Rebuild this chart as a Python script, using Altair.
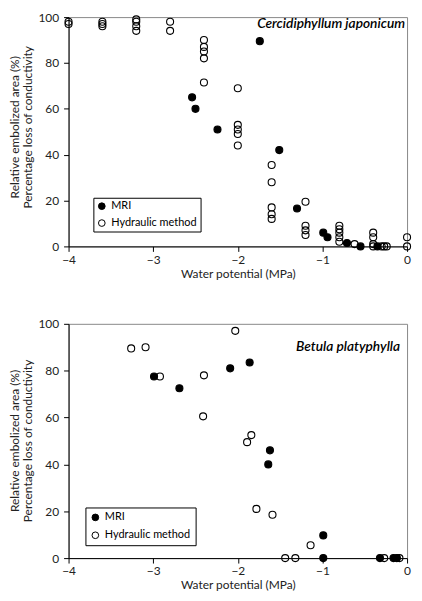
import altair as alt
import pandas as pd

# ---- Cercidiphyllum japonicum (top panel) ----
top_hyd_x = [-4.0, -4.0, -3.6, -3.6, -3.6, -3.2, -3.2, -3.2, -3.2, -2.8, -2.8,
             -2.4, -2.4, -2.4, -2.4, -2.4, -2.0, -2.0, -2.0, -2.0, -2.0,
             -1.6, -1.6, -1.6, -1.6, -1.6, -1.2, -1.2, -1.2, -1.2,
             -0.8, -0.8, -0.8, -0.8, -0.8, -0.62, -0.4, -0.4, -0.4, -0.4,
             -0.3, -0.27, -0.24, 0.0, 0.0]
top_hyd_y = [97, 98, 96, 97, 98, 94, 96, 98, 99, 98, 94,
             90, 87, 85, 82, 71.5, 69, 53, 51, 49, 44,
             35.5, 28, 17, 14, 12, 19.5, 9, 7, 5,
             9, 7.5, 6, 4, 2, 1, 6, 4, 1, 0,
             0, 0, 0, 4, 0]
top_mri_x = [-2.54, -2.5, -2.24, -1.74, -1.51, -1.3, -0.99, -0.94, -0.71, -0.55, -0.35]
top_mri_y = [65, 60, 51, 89.5, 42, 16.5, 6, 4, 1.5, 0, 0]

# ---- Betula platyphylla (bottom panel) ----
bot_hyd_x = [-3.26, -3.09, -2.92, -2.40, -2.41, -2.03, -1.84, -1.89, -1.78, -1.59,
             -1.44, -1.32, -1.14, -0.27, -0.09]
bot_hyd_y = [89.5, 90, 77.5, 78, 60.5, 97, 52.5, 49.5, 21, 18.5,
             0, 0, 5.5, 0, 0]
bot_mri_x = [-2.99, -2.69, -2.09, -1.86, -1.62, -1.64, -0.99, -0.99, -0.32, -0.16, -0.12]
bot_mri_y = [77.5, 72.5, 81, 83.5, 46, 40, 9.7, 0, 0, 0, 0]

x_ticks = [-4, -3, -2, -1, 0]
y_ticks = [0, 20, 40, 60, 80, 100]
methods = ["MRI", "Hydraulic method"]
x_title = "Water potential (MPa)"
y_title_lines = ["Relative embolized area (%)", "Percentage loss of conductivity"]

FONT = "Lato"
W = 341


def panel(hx, hy, mx, my, h, label, lab_x, lab_y, leg_x, leg_y, leg_pad, leg_row, yt_y):
    df = pd.DataFrame({
        "x": hx + mx,
        "y": hy + my,
        "method": ["Hydraulic method"] * len(hx) + ["MRI"] * len(mx),
        "ord": list(range(len(hx) + len(mx))),
    })
    pts = alt.Chart(df).mark_point(
        shape="circle", size=50, stroke="black", strokeWidth=1.1,
        opacity=1, fillOpacity=1, clip=False
    ).encode(
        x=alt.X("x:Q", scale=alt.Scale(domain=[-4, 0], nice=False, zero=False),
                axis=alt.Axis(values=x_ticks, title=x_title, grid=False, format="d",
                              labelFlush=False)),
        y=alt.Y("y:Q", scale=alt.Scale(domain=[0, 100], nice=False),
                axis=alt.Axis(values=y_ticks, title=None, grid=False, labelFlush=False)),
        fill=alt.Fill("method:N",
                      scale=alt.Scale(domain=methods, range=["black", "transparent"]),
                      legend=alt.Legend(title=None, orient="none", legendX=leg_x, legendY=leg_y,
                                        strokeColor="black", fillColor="white", padding=leg_pad,
                                        symbolType="circle", symbolSize=45,
                                        symbolStrokeColor="black", symbolStrokeWidth=1,
                                        labelFont=FONT, labelFontSize=11, labelColor="black",
                                        rowPadding=leg_row, labelOffset=4)),
        order=alt.Order("ord:Q"),
    )
    txt = alt.Chart(pd.DataFrame({"t": [label]})).mark_text(
        font=FONT, fontSize=13.8, fontStyle="italic", fontWeight=600, align="right",
        baseline="middle", color="black"
    ).encode(text="t:N", x=alt.value(lab_x), y=alt.value(lab_y))
    yt1 = alt.Chart(pd.DataFrame({"t": [y_title_lines[0]]})).mark_text(
        font=FONT, fontSize=12, angle=270, align="center", baseline="middle", color="#222222"
    ).encode(text="t:N", x=alt.value(-54), y=alt.value(yt_y))
    yt2 = alt.Chart(pd.DataFrame({"t": [y_title_lines[1]]})).mark_text(
        font=FONT, fontSize=12, angle=270, align="center", baseline="middle", color="#222222"
    ).encode(text="t:N", x=alt.value(-41), y=alt.value(yt_y))
    return alt.layer(pts, txt, yt1, yt2).properties(width=W, height=h)


top = panel(top_hyd_x, top_hyd_y, top_mri_x, top_mri_y, 231,
            "Cercidiphyllum japonicum", 339, 7, 25, 182, 3, 5, 111)
bot = panel(bot_hyd_x, bot_hyd_y, bot_mri_x, bot_mri_y, 236,
            "Betula platyphylla", 334, 23, 17, 185, 4.5, 6, 118)

chart = alt.vconcat(top, bot, spacing=37).resolve_scale(fill="independent").resolve_legend(
    fill="independent"
).properties(
    padding={"left": 0, "top": 0, "right": 0, "bottom": 0}
).configure(
    font=FONT
).configure_view(
    stroke="#888888", strokeWidth=1
).configure_axis(
    domainColor="black", domainWidth=1, tickColor="black", tickSize=5,
    labelFont=FONT, labelFontSize=12, labelColor="#222222", labelPadding=3,
    titleFont=FONT, titleFontSize=12, titleFontWeight="normal", titleColor="#222222",
).configure_axisX(titlePadding=3).configure_axisY(labelPadding=5)

chart.save("out.html", embed_options={"renderer": "svg", "actions": False})
